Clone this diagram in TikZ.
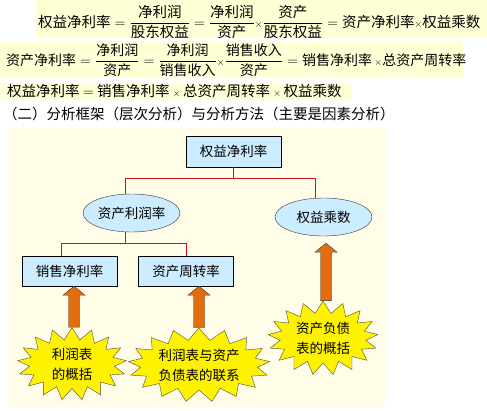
\documentclass[tikz,border=0pt]{standalone}
\usepackage{amsmath}
\usepackage{fontspec}
\setmainfont{Noto Sans CJK SC}
\usetikzlibrary{shapes.geometric,shapes.symbols,calc}

\begin{document}
\begin{tikzpicture}[x=1pt,y=-1pt,
    caja/.style={draw=black, fill=azulC, minimum width=95pt, minimum height=31pt, inner sep=0pt, font=\fontsize{13.5}{15}\selectfont},
    elipse/.style={ellipse, draw=black!80, fill=azulC, minimum width=97pt, minimum height=38pt, inner sep=0pt, font=\fontsize{13.5}{15}\selectfont},
    estrella/.style={starburst, starburst points=17, starburst point height=12pt, random starburst=0, draw=black!70, fill=yellow, align=center, inner sep=1pt, font=\fontsize{13.5}{20}\selectfont},
    enlace/.style={draw=rojoL, semithick},
    flecha/.style={draw=black!80, fill=naranjaF, to path={let \p1=(\tikztostart), \p2=(\tikztotarget) in
        (\x1-5.5pt,\y1) -- (\x1-5.5pt,\y2-9pt) -- (\x1-11pt,\y2-9pt) -- (\x1,\y2) -- (\x1+11pt,\y2-9pt) -- (\x1+5.5pt,\y2-9pt) -- (\x1+5.5pt,\y1) -- cycle}},
    formula/.style={anchor=west, inner sep=0pt, font=\fontsize{14.5}{16}\selectfont}]
        \definecolor{fondoF}{RGB}{255,255,214}
        \definecolor{fondoD}{RGB}{255,253,232}
        \definecolor{azulC}{RGB}{204,236,255}
        \definecolor{rojoL}{RGB}{200,20,20}
        \definecolor{naranjaF}{RGB}{225,110,10}
        \useasboundingbox (0,0) rectangle (487,410);
        % formulas
        \fill[fondoF] (36,0) rectangle (487,38);
        \fill[fondoF] (0,41) rectangle (463,78);
        \fill[fondoF] (0,83) rectangle (352,100);
        \node[formula] (f1) at (38,22) {$\mbox{权益净利率} = \dfrac{\mbox{净利润}}{\mbox{股东权益}} = \dfrac{\mbox{净利润}}{\mbox{资产}} {\scriptstyle\times} \dfrac{\mbox{资产}}{\mbox{股东权益}} = \mbox{资产净利率}{\scriptstyle\times}\mbox{权益乘数}$};
        \node[formula, font=\fontsize{14}{16}\selectfont] (f2) at (6,60) {$\mbox{资产净利率} = \dfrac{\mbox{净利润}}{\mbox{资产}} = \dfrac{\mbox{净利润}}{\mbox{销售收入}} {\scriptstyle\times} \dfrac{\mbox{销售收入}}{\mbox{资产}} = \mbox{销售净利率}\,{\scriptstyle\times}\mbox{总资产周转率}$};
        \node[formula] (f3) at (7,91) {权益净利率 $=$ 销售净利率 $\scriptstyle\times$\,总资产周转率 $\scriptstyle\times$\,权益乘数};
        \node[formula] (f4) at (3,114) {（二）分析框架（层次分析）与分析方法（主要是因素分析）};
        % diagrama
        \fill[fondoD] (8,128) rectangle (385,407);
        \node[caja] (top) at (233.5,151.5) {权益净利率};
        \node[elipse] (e1) at (131.5,213) {资产利润率};
        \node[elipse] (e2) at (323.5,217) {权益乘数};
        \node[caja, minimum height=30pt] (b1) at (69.5,271) {销售净利率};
        \node[caja, minimum height=30pt] (b2) at (186,271) {资产周转率};
        \node[estrella, minimum width=109pt, minimum height=72pt] (s1) at (72,364) {利润表\\的概括};
        \node[estrella, minimum width=123pt, minimum height=74pt] (s2) at (199,365) {利润表与资产\\负债表的联系};
        \node[estrella, minimum width=110pt, minimum height=74pt] (s3) at (323,338) {资产负债\\表的概括};
        \draw[enlace] (top.south) -- ++(0,11) coordinate (j1) -| ([xshift=-6pt]e1.north);
        \draw[enlace] (j1) -| ([xshift=-8pt]e2.north);
        \draw[enlace] ([xshift=-6pt]e1.south) -- ++(0,11) coordinate (j2) -| ([xshift=-8pt]b1.north);
        \draw[enlace] (j2) -| (b2.north);
        \draw[flecha] ([xshift=2pt]s1.north) to (b1.south);
        \draw[flecha] (s2.north) to (b2.south);
        \draw[flecha] ([xshift=3pt]s3.north) to ([yshift=-7pt]e2.south);
    \end{tikzpicture}
\end{document}
